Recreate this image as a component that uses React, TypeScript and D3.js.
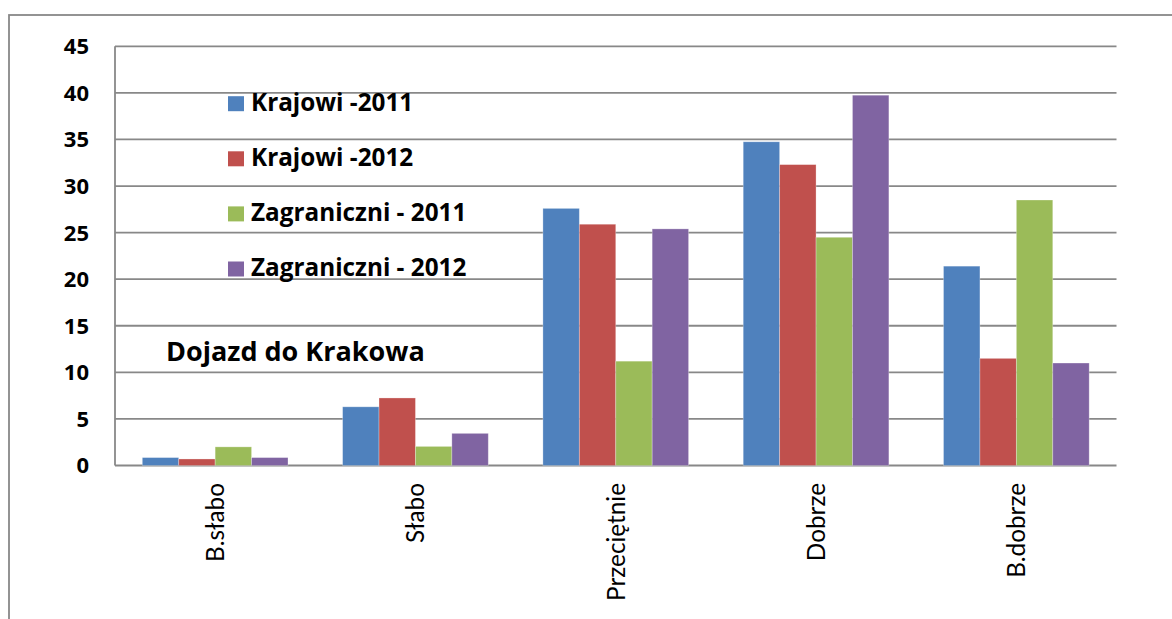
import React from "react";
import * as d3 from "d3";

const categories = ["B.słabo", "Słabo", "Przeciętnie", "Dobrze", "B.dobrze"];
const seriesNames = ["Krajowi -2011", "Krajowi -2012", "Zagraniczni - 2011", "Zagraniczni - 2012"];
const seriesColors = ["#4F81BD", "#C0504D", "#9BBB59", "#8064A2"];
const krajowi2011 = [0.85, 6.3, 27.6, 34.75, 21.4];
const krajowi2012 = [0.7, 7.25, 25.9, 32.3, 11.5];
const zagraniczni2011 = [2.0, 2.05, 11.2, 24.5, 28.5];
const zagraniczni2012 = [0.85, 3.45, 25.4, 39.75, 11.0];
const seriesValues = [krajowi2011, krajowi2012, zagraniczni2011, zagraniczni2012];
const yTicks = [0, 5, 10, 15, 20, 25, 30, 35, 40, 45];
const chartTitle = "Dojazd do Krakowa";

const W = 1172;
const H = 619;
const plot = { left: 115, right: 1116.5, top: 46.3, bottom: 465.5 };
const FONT_BOLD = "'Open Sans', Lato, sans-serif";
const FONT_REG = "Lato, 'Open Sans', sans-serif";
const GRID = "#888888";

export default function App() {
  const y = d3.scaleLinear().domain([0, 45]).range([plot.bottom, plot.top]);
  const x0 = d3.scaleBand<string>().domain(categories).range([plot.left, plot.right]).padding(0);
  const x1 = d3
    .scaleBand<string>()
    .domain(seriesNames)
    .range([0, x0.bandwidth()])
    .paddingInner(0)
    .paddingOuter(0.75);

  return (
    <div style={{ position: "absolute", left: 0, top: 0 }}>
      <svg width={W} height={H} style={{ display: "block", background: "#fff" }}>
        <rect x={9} y={15} width={1300} height={800} fill="#fff" stroke={GRID} strokeWidth={1.8} />
        {yTicks.map((t) => (
          <line
            key={"g" + t}
            x1={plot.left}
            x2={plot.right}
            y1={y(t)}
            y2={y(t)}
            stroke={GRID}
            strokeWidth={1.8}
          />
        ))}
        <line x1={plot.left} x2={plot.left} y1={plot.top} y2={plot.bottom} stroke={GRID} strokeWidth={1.8} />
        {seriesNames.map((s, si) =>
          categories.map((c, ci) => {
            const v = seriesValues[si][ci];
            const bx = (x0(c) ?? 0) + (x1(s) ?? 0);
            return (
              <rect
                key={s + c}
                x={bx}
                y={y(v)}
                width={x1.bandwidth()}
                height={y(0) - y(v)}
                fill={seriesColors[si]}
                stroke="#ffffff"
                strokeOpacity={0.35}
                strokeWidth={0.8}
              />
            );
          })
        )}
        {yTicks.map((t) => (
          <text
            key={"t" + t}
            x={89}
            y={y(t)}
            dy="0.36em"
            textAnchor="end"
            fontFamily={FONT_BOLD}
            fontWeight={700}
            fontSize={22}
            fill="#000"
          >
            {t}
          </text>
        ))}
        {categories.map((c) => {
          const cx = (x0(c) ?? 0) + x0.bandwidth() / 2;
          return (
            <text
              key={"x" + c}
              transform={`translate(${cx},483) rotate(-90)`}
              dy="0.36em"
              textAnchor="end"
              fontFamily={FONT_REG}
              fontSize={24.3}
              fill="#000"
            >
              {c}
            </text>
          );
        })}
        {seriesNames.map((s, si) => (
          <g key={"l" + s} transform={`translate(228,${110.7 + si * 55.1})`}>
            <rect x={0} y={-14.5} width={16} height={15} fill={seriesColors[si]} />
            <text x={23} y={0} fontFamily={FONT_BOLD} fontWeight={700} fontSize={24.3} fill="#000">
              {s}
            </text>
          </g>
        ))}
        <text x={166} y={360.7} fontFamily={FONT_BOLD} fontWeight={700} fontSize={27} fill="#000">
          {chartTitle}
        </text>
      </svg>
    </div>
  );
}
